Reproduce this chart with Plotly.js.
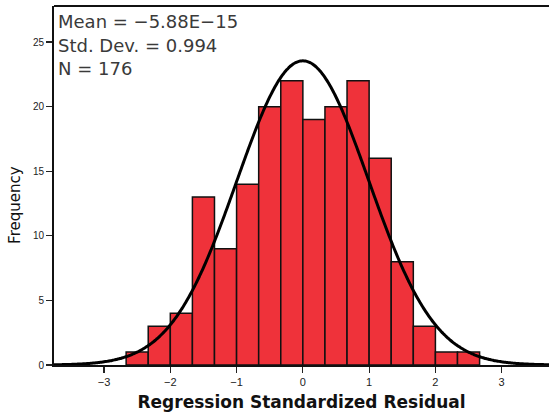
<!DOCTYPE html>
<html>
<head>
<meta charset="utf-8">
<script src="https://cdn.plot.ly/plotly-3.0.1.min.js"></script>
<style>
  html, body { margin: 0; padding: 0; background: #fff; }
  #chart { width: 549px; height: 419px; }
</style>
</head>
<body>
<div id="chart"></div>
<script>
// Histogram of regression standardized residuals (bin width 1/3)
const binLower = [-8/3, -7/3, -2, -5/3, -4/3, -1, -2/3, -1/3, 0, 1/3, 2/3, 1, 4/3, 5/3, 2, 7/3];
const counts   = [1, 3, 4, 13, 9, 14, 20, 22, 19, 20, 22, 16, 8, 3, 1, 1];
const binWidth = 1/3;

// Summary statistics shown in the corner
const meanValue = -5.88e-15;
const stdDev = 0.994;
const nCases = 176;
const statLines = ["Mean = \u22125.88E\u221215", "Std. Dev. = 0.994", "N = 176"];

const xTicks = [-3, -2, -1, 0, 1, 2, 3];
const xTickText = ["\u22123", "\u22122", "\u22121", "0", "1", "2", "3"];
const yTicks = [0, 5, 10, 15, 20, 25];

const centers = binLower.map(v => v + binWidth / 2);

// Fitted normal curve scaled to counts per bin
const curveX = [];
const curveY = [];
for (let x = -3.8; x <= 3.8001; x += 0.02) {
  const z = (x - meanValue) / stdDev;
  curveX.push(x);
  curveY.push(nCases * binWidth * Math.exp(-0.5 * z * z) / (stdDev * Math.sqrt(2 * Math.PI)));
}

const traces = [
  {
    type: "bar",
    x: centers,
    y: counts,
    width: binWidth,
    marker: { color: "#ef323a", line: { color: "#111", width: 1.5 } },
    hoverinfo: "x+y"
  },
  {
    type: "scatter",
    mode: "lines",
    x: curveX,
    y: curveY,
    line: { color: "#000", width: 3, shape: "spline" },
    hoverinfo: "skip"
  }
];

const annotations = statLines.map((t, i) => ({
  text: t,
  xref: "paper", yref: "paper",
  x: 0.005, y: 1,
  xanchor: "left", yanchor: "top",
  yshift: -i * 23.5 - 3,
  showarrow: false,
  font: { family: "DejaVu Sans, sans-serif", size: 18, color: "#3a3a3a" }
}));

annotations.push({
  text: "Frequency",
  xref: "paper", yref: "paper",
  x: 0, y: 0.446,
  xanchor: "center", yanchor: "middle",
  xshift: -39,
  textangle: -90,
  showarrow: false,
  font: { family: "DejaVu Sans, sans-serif", size: 15, color: "#111" }
});

const layout = {
  width: 549,
  height: 419,
  margin: { l: 54, r: 0, t: 6, b: 54 },
  paper_bgcolor: "#fff",
  plot_bgcolor: "#fff",
  showlegend: false,
  bargap: 0,
  xaxis: {
    range: [-3.755, 3.714],
    tickmode: "array",
    tickvals: xTicks,
    ticktext: xTickText,
    ticks: "outside",
    ticklen: 6,
    tickwidth: 1.2,
    tickcolor: "#222",
    showline: true,
    linecolor: "#111",
    linewidth: 2,
    showgrid: false,
    zeroline: false,
    tickfont: { family: "Liberation Sans, Arial, sans-serif", size: 11, color: "#222" },
    title: {
      text: "<b>Regression Standardized Residual</b>",
      font: { family: "DejaVu Sans, sans-serif", size: 17, color: "#111" },
      standoff: 9
    }
  },
  yaxis: {
    range: [0, 27.79],
    tickmode: "array",
    tickvals: yTicks,
    ticks: "outside",
    ticklen: 6,
    tickwidth: 1.2,
    tickcolor: "#222",
    showline: true,
    linecolor: "#111",
    linewidth: 2,
    showgrid: false,
    zeroline: false,
    tickfont: { family: "Liberation Sans, Arial, sans-serif", size: 10, color: "#222" }
  },
  shapes: [
    { type: "line", xref: "paper", yref: "paper", x0: 0, x1: 1, y0: 1, y1: 1,
      line: { color: "#111", width: 2 } }
  ],
  annotations: annotations
};

Plotly.newPlot("chart", traces, layout, { displayModeBar: false, staticPlot: true });
</script>
</body>
</html>
